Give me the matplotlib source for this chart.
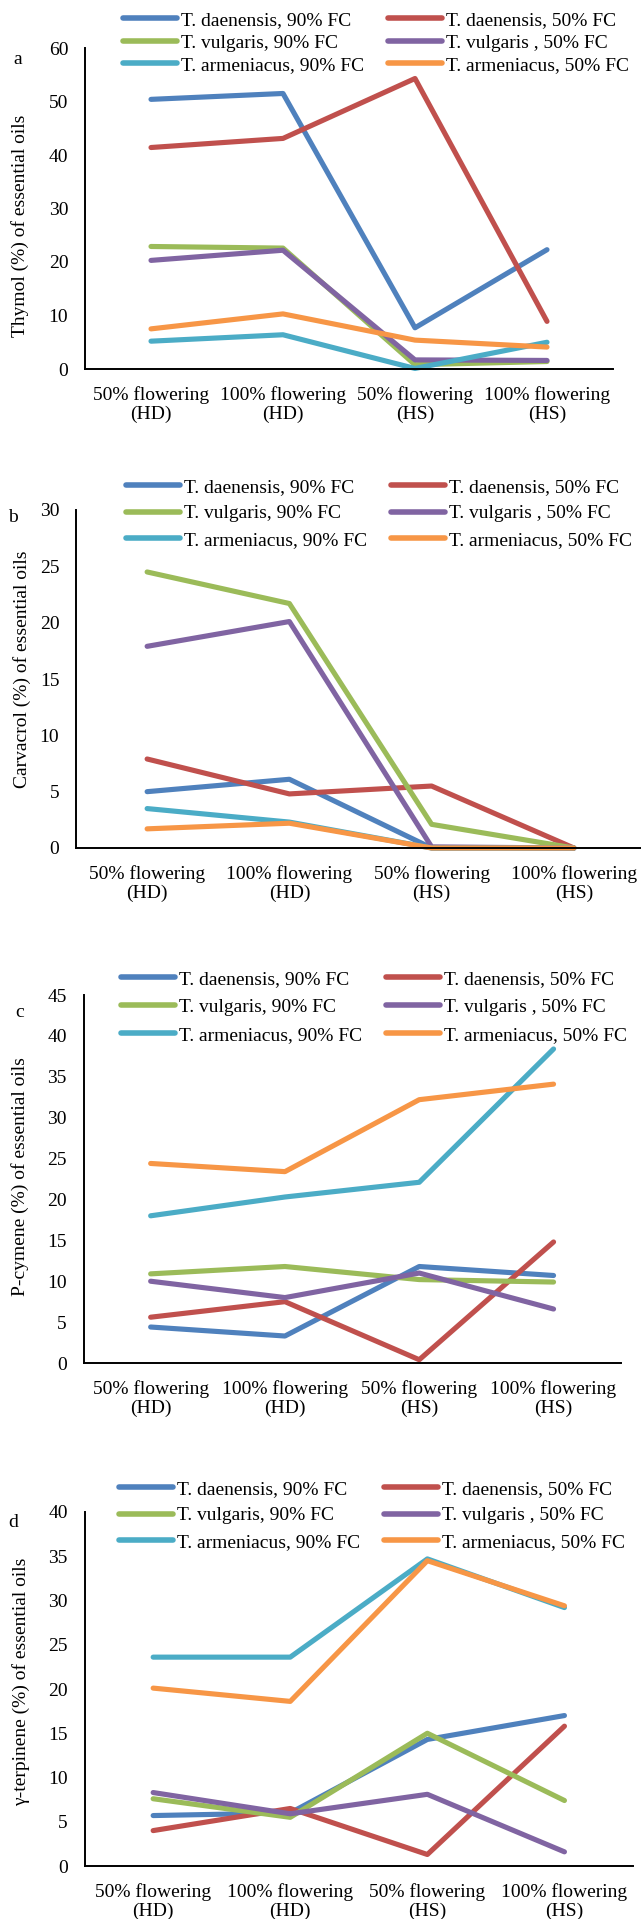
import matplotlib
matplotlib.use("Agg")
import matplotlib.pyplot as plt

plt.rcParams['font.family'] = ['Liberation Serif', 'DejaVu Serif']

W, H = 641, 1919

categories = ["50% flowering\n(HD)", "100% flowering\n(HD)", "50% flowering\n(HS)", "100% flowering\n(HS)"]
series_names = ["T. daenensis, 90% FC", "T. daenensis, 50% FC",
                "T. vulgaris, 90% FC", "T. vulgaris , 50% FC",
                "T. armeniacus, 90% FC", "T. armeniacus, 50% FC"]
colors = ["#4F81BD", "#C0504D", "#9BBB59", "#8064A2", "#4BACC6", "#F79646"]

# Panel a: Thymol
thymol_daen90 = [50.4, 51.5, 7.7, 22.3]
thymol_daen50 = [41.4, 43.1, 54.3, 8.9]
thymol_vulg90 = [22.9, 22.6, 0.8, 1.4]
thymol_vulg50 = [20.3, 22.2, 1.7, 1.6]
thymol_arme90 = [5.2, 6.4, 0.1, 5.0]
thymol_arme50 = [7.5, 10.3, 5.4, 4.1]

# Panel b: Carvacrol
carv_daen90 = [5.0, 6.1, 0.0, 0.0]
carv_daen50 = [7.9, 4.8, 5.5, 0.0]
carv_vulg90 = [24.5, 21.7, 2.1, 0.0]
carv_vulg50 = [17.9, 20.1, 0.1, 0.0]
carv_arme90 = [3.5, 2.3, 0.0, 0.0]
carv_arme50 = [1.7, 2.2, 0.0, 0.0]

# Panel c: P-cymene
pcym_daen90 = [4.4, 3.3, 11.8, 10.7]
pcym_daen50 = [5.6, 7.5, 0.4, 14.8]
pcym_vulg90 = [10.9, 11.8, 10.2, 9.9]
pcym_vulg50 = [10.0, 8.0, 11.0, 6.6]
pcym_arme90 = [18.0, 20.3, 22.1, 38.4]
pcym_arme50 = [24.4, 23.4, 32.2, 34.1]

# Panel d: gamma-terpinene
gter_daen90 = [5.7, 6.0, 14.3, 17.0]
gter_daen50 = [4.0, 6.5, 1.3, 15.8]
gter_vulg90 = [7.6, 5.5, 15.0, 7.4]
gter_vulg50 = [8.3, 5.9, 8.1, 1.6]
gter_arme90 = [23.6, 23.6, 34.7, 29.2]
gter_arme50 = [20.1, 18.6, 34.5, 29.4]

panels = [
    dict(letter="a", ylabel="Thymol (%) of essential oils", ymax=60, step=10,
         data=[thymol_daen90, thymol_daen50, thymol_vulg90, thymol_vulg50, thymol_arme90, thymol_arme50],
         box=(85, 48, 613, 369), letter_xy=(18, 60), ylabel_xy=(20, 226),
         leg_xy=(123, 20), leg_sp=22.6),
    dict(letter="b", ylabel="Carvacrol (%) of essential oils", ymax=30, step=5,
         data=[carv_daen90, carv_daen50, carv_vulg90, carv_vulg50, carv_arme90, carv_arme50],
         box=(76, 510, 645, 848), letter_xy=(13, 517), ylabel_xy=(22, 669),
         leg_xy=(126, 487), leg_sp=26.5),
    dict(letter="c", ylabel="P-cymene (%) of essential oils", ymax=45, step=5,
         data=[pcym_daen90, pcym_daen50, pcym_vulg90, pcym_vulg50, pcym_arme90, pcym_arme50],
         box=(83.5, 995, 620.7, 1363), letter_xy=(20, 1012), ylabel_xy=(20, 1177),
         leg_xy=(121, 979), leg_sp=28),
    dict(letter="d", ylabel="\u03b3-terpinene (%) of essential oils", ymax=40, step=5,
         data=[gter_daen90, gter_daen50, gter_vulg90, gter_vulg50, gter_arme90, gter_arme50],
         box=(84.6, 1512, 633, 1866), letter_xy=(13, 1522), ylabel_xy=(21, 1682),
         leg_xy=(119, 1489), leg_sp=26.5),
]

fig = plt.figure(figsize=(W / 100, H / 100), dpi=100)
FS = 14
FSPX = FS * 100 / 72.0

for p in panels:
    l, t, r, b = p["box"]
    ax = fig.add_axes([l / W, 1 - b / H, (r - l) / W, (b - t) / H])
    x = list(range(len(categories)))
    handles = []
    for vals, name, c in zip(p["data"], series_names, colors):
        h, = ax.plot(x, vals, color=c, lw=3.7, solid_capstyle='round',
                     solid_joinstyle='round', clip_on=False, label=name)
        handles.append(h)
    ax.set_xlim(-0.5, len(categories) - 0.5)
    ax.set_ylim(0, p["ymax"])
    ax.set_yticks(list(range(0, p["ymax"] + 1, p["step"])))
    ax.set_xticks(x)
    ax.set_xticklabels(categories, fontsize=FS, linespacing=1.17)
    ax.tick_params(axis='y', length=0, pad=12, labelsize=FS)
    ax.tick_params(axis='x', length=0, pad=12, labelsize=FS)
    for s in ['top', 'right']:
        ax.spines[s].set_visible(False)
    for s in ['left', 'bottom']:
        ax.spines[s].set_color('black')
        ax.spines[s].set_linewidth(1.4)
    ax.patch.set_alpha(0)

    fig.text(p["letter_xy"][0] / W, 1 - p["letter_xy"][1] / H, p["letter"],
             fontsize=FS, ha='center', va='center')
    fig.text(p["ylabel_xy"][0] / W, 1 - p["ylabel_xy"][1] / H, p["ylabel"],
             fontsize=14, ha='center', va='center', rotation=90)

    # row-major legend order for a 2-column legend
    order = [0, 2, 4, 1, 3, 5]
    lx, ly = p["leg_xy"]
    base_row = 17.5
    ls = (p["leg_sp"] - base_row) / FSPX
    leg = fig.legend(handles=[handles[i] for i in order],
                     ncol=2, frameon=False, fontsize=FS,
                     loc='upper left',
                     bbox_to_anchor=(lx / W, 1 - (ly - 8.8) / H),
                     bbox_transform=fig.transFigure,
                     borderpad=0, borderaxespad=0, handlelength=2.8,
                     handletextpad=0.2, columnspacing=1.2,
                     labelspacing=max(ls, 0.0))
    for lh in leg.get_lines():
        lh.set_linewidth(4.0)
        lh.set_solid_capstyle('round')

fig.savefig("out.png", dpi=100)
